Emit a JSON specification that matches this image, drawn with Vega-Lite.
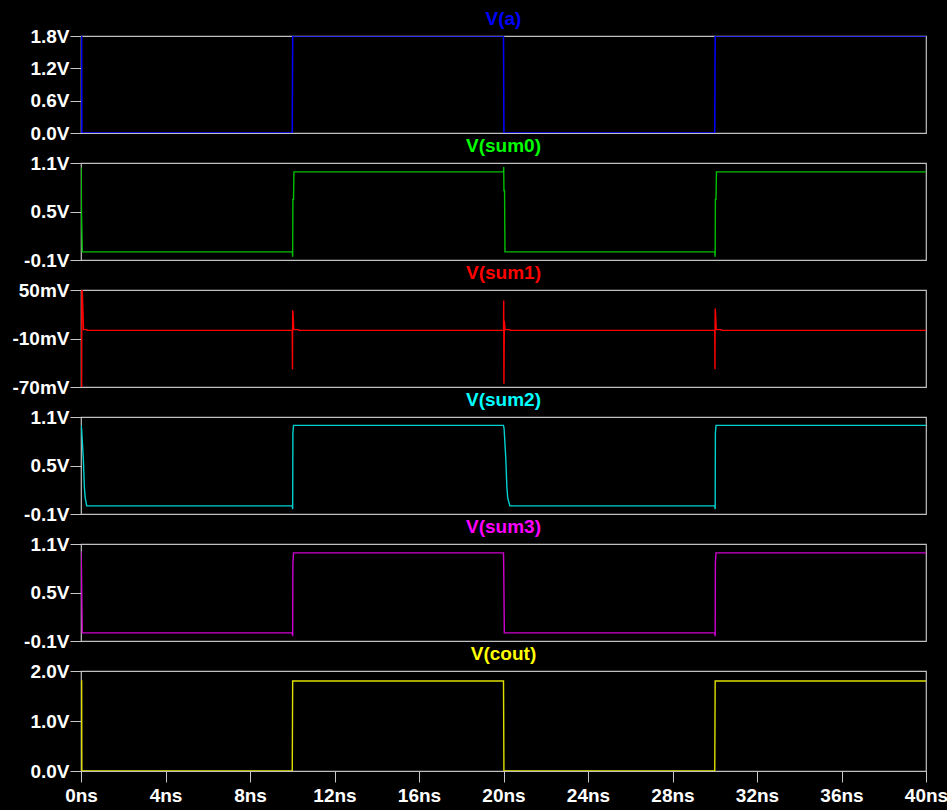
{
  "$schema": "https://vega.github.io/schema/vega-lite/v6.json",
  "background": "black",
  "padding": {"left": 11, "top": 9, "right": 0, "bottom": 5},
  "bounds": "flush",
  "spacing": 30,
  "resolve": {"scale": {"y": "independent"}},
  "datasets": {
    "waves": [
      {"sig": "a", "t": 0, "v": 1.8}, {"sig": "a", "t": 0.03, "v": 1.8}, {"sig": "a", "t": 0.04, "v": 0}, {"sig": "a", "t": 10, "v": 0}, {"sig": "a", "t": 10.02, "v": 1.8},
      {"sig": "a", "t": 20, "v": 1.8}, {"sig": "a", "t": 20.02, "v": 0}, {"sig": "a", "t": 30, "v": 0}, {"sig": "a", "t": 30.02, "v": 1.8}, {"sig": "a", "t": 40, "v": 1.8},

      {"sig": "sum0", "t": 0, "v": 1.04}, {"sig": "sum0", "t": 0.01, "v": 1.04}, {"sig": "sum0", "t": 0.02, "v": 0.55}, {"sig": "sum0", "t": 0.06, "v": 0.0},
      {"sig": "sum0", "t": 10, "v": 0.0}, {"sig": "sum0", "t": 10.02, "v": -0.06}, {"sig": "sum0", "t": 10.03, "v": 0.65}, {"sig": "sum0", "t": 10.06, "v": 0.65}, {"sig": "sum0", "t": 10.08, "v": 0.99},
      {"sig": "sum0", "t": 20, "v": 0.99}, {"sig": "sum0", "t": 20.01, "v": 1.05}, {"sig": "sum0", "t": 20.02, "v": 0.76}, {"sig": "sum0", "t": 20.05, "v": 0.76}, {"sig": "sum0", "t": 20.07, "v": 0.0},
      {"sig": "sum0", "t": 30, "v": 0.0}, {"sig": "sum0", "t": 30.02, "v": -0.06}, {"sig": "sum0", "t": 30.03, "v": 0.65}, {"sig": "sum0", "t": 30.06, "v": 0.65}, {"sig": "sum0", "t": 30.08, "v": 0.99},
      {"sig": "sum0", "t": 40, "v": 0.99},

      {"sig": "sum1", "t": 0, "v": 0}, {"sig": "sum1", "t": 0.03, "v": -0.08}, {"sig": "sum1", "t": 0.04, "v": 0.06}, {"sig": "sum1", "t": 0.07, "v": 0.042}, {"sig": "sum1", "t": 0.09, "v": 0.025}, {"sig": "sum1", "t": 0.12, "v": 0.001}, {"sig": "sum1", "t": 0.28, "v": 0.001}, {"sig": "sum1", "t": 0.3, "v": 0},
      {"sig": "sum1", "t": 10, "v": 0}, {"sig": "sum1", "t": 10.01, "v": -0.048}, {"sig": "sum1", "t": 10.02, "v": 0.025}, {"sig": "sum1", "t": 10.04, "v": 0.02}, {"sig": "sum1", "t": 10.07, "v": 0.001}, {"sig": "sum1", "t": 10.3, "v": 0.001}, {"sig": "sum1", "t": 10.32, "v": 0},
      {"sig": "sum1", "t": 20, "v": 0}, {"sig": "sum1", "t": 20.01, "v": 0.037}, {"sig": "sum1", "t": 20.02, "v": -0.066}, {"sig": "sum1", "t": 20.04, "v": 0.012}, {"sig": "sum1", "t": 20.07, "v": 0.001}, {"sig": "sum1", "t": 20.3, "v": 0.001}, {"sig": "sum1", "t": 20.32, "v": 0},
      {"sig": "sum1", "t": 30, "v": 0}, {"sig": "sum1", "t": 30.01, "v": -0.048}, {"sig": "sum1", "t": 30.02, "v": 0.027}, {"sig": "sum1", "t": 30.04, "v": 0.02}, {"sig": "sum1", "t": 30.07, "v": 0.001}, {"sig": "sum1", "t": 30.3, "v": 0.001}, {"sig": "sum1", "t": 30.32, "v": 0},
      {"sig": "sum1", "t": 40, "v": 0},

      {"sig": "sum2", "t": 0, "v": 1.0}, {"sig": "sum2", "t": 0.03, "v": 0.95}, {"sig": "sum2", "t": 0.11, "v": 0.58}, {"sig": "sum2", "t": 0.16, "v": 0.23}, {"sig": "sum2", "t": 0.2, "v": 0.1}, {"sig": "sum2", "t": 0.27, "v": 0.0},
      {"sig": "sum2", "t": 10, "v": 0.0}, {"sig": "sum2", "t": 10.02, "v": -0.04}, {"sig": "sum2", "t": 10.03, "v": 0.9}, {"sig": "sum2", "t": 10.06, "v": 0.997},
      {"sig": "sum2", "t": 20, "v": 0.997}, {"sig": "sum2", "t": 20.03, "v": 0.95}, {"sig": "sum2", "t": 20.11, "v": 0.58}, {"sig": "sum2", "t": 20.16, "v": 0.23}, {"sig": "sum2", "t": 20.2, "v": 0.1}, {"sig": "sum2", "t": 20.3, "v": 0.0},
      {"sig": "sum2", "t": 30, "v": 0.0}, {"sig": "sum2", "t": 30.02, "v": -0.04}, {"sig": "sum2", "t": 30.03, "v": 0.9}, {"sig": "sum2", "t": 30.06, "v": 0.997},
      {"sig": "sum2", "t": 40, "v": 0.997},

      {"sig": "sum3", "t": 0, "v": 1.01}, {"sig": "sum3", "t": 0.02, "v": 0.82}, {"sig": "sum3", "t": 0.06, "v": 0.0},
      {"sig": "sum3", "t": 10, "v": 0.0}, {"sig": "sum3", "t": 10.02, "v": -0.04}, {"sig": "sum3", "t": 10.03, "v": 0.86}, {"sig": "sum3", "t": 10.06, "v": 0.99},
      {"sig": "sum3", "t": 20, "v": 0.99}, {"sig": "sum3", "t": 20.01, "v": 0.82}, {"sig": "sum3", "t": 20.04, "v": 0.0},
      {"sig": "sum3", "t": 30, "v": 0.0}, {"sig": "sum3", "t": 30.02, "v": -0.04}, {"sig": "sum3", "t": 30.03, "v": 0.86}, {"sig": "sum3", "t": 30.06, "v": 0.99},
      {"sig": "sum3", "t": 40, "v": 0.99},

      {"sig": "cout", "t": 0, "v": 1.8}, {"sig": "cout", "t": 0.03, "v": 1.8}, {"sig": "cout", "t": 0.04, "v": 0}, {"sig": "cout", "t": 10, "v": 0}, {"sig": "cout", "t": 10.02, "v": 1.8},
      {"sig": "cout", "t": 20, "v": 1.8}, {"sig": "cout", "t": 20.02, "v": 0}, {"sig": "cout", "t": 30, "v": 0}, {"sig": "cout", "t": 30.02, "v": 1.8}, {"sig": "cout", "t": 40, "v": 1.8}
    ]
  },
  "vconcat": [
    {
      "title": {"text": "V(a)", "color": "#0000ff"},
      "width": 845, "height": 97,
      "data": {"name": "waves"},
      "transform": [{"filter": "datum.sig == 'a'"}],
      "mark": {"type": "line", "color": "#0000ff", "strokeWidth": 1.5, "clip": true},
      "encoding": {
        "x": {"field": "t", "type": "quantitative", "scale": {"domain": [0, 40], "nice": false}, "axis": null},
        "y": {"field": "v", "type": "quantitative", "scale": {"domain": [0, 1.8], "nice": false, "zero": false},
              "axis": {"title": null, "values": [0, 0.6, 1.2, 1.8], "labelExpr": "(datum.value < 0 ? '-' : '') + format(abs(datum.value), '.1f') + 'V'"}}
      }
    },
    {
      "title": {"text": "V(sum0)", "color": "#00ff00"},
      "width": 845, "height": 97,
      "data": {"name": "waves"},
      "transform": [{"filter": "datum.sig == 'sum0'"}],
      "mark": {"type": "line", "color": "#00c000", "strokeWidth": 1.4, "clip": true},
      "encoding": {
        "x": {"field": "t", "type": "quantitative", "scale": {"domain": [0, 40], "nice": false}, "axis": null},
        "y": {"field": "v", "type": "quantitative", "scale": {"domain": [-0.1, 1.1], "nice": false, "zero": false},
              "axis": {"title": null, "values": [-0.1, 0.5, 1.1], "labelExpr": "(datum.value < 0 ? '-' : '') + format(abs(datum.value), '.1f') + 'V'"}}
      }
    },
    {
      "title": {"text": "V(sum1)", "color": "#ff0000"},
      "width": 845, "height": 97,
      "data": {"name": "waves"},
      "transform": [{"filter": "datum.sig == 'sum1'"}],
      "mark": {"type": "line", "color": "#ff0000", "strokeWidth": 1.4, "clip": true},
      "encoding": {
        "x": {"field": "t", "type": "quantitative", "scale": {"domain": [0, 40], "nice": false}, "axis": null},
        "y": {"field": "v", "type": "quantitative", "scale": {"domain": [-0.07, 0.05], "nice": false, "zero": false},
              "axis": {"title": null, "values": [-0.07, -0.01, 0.05], "labelExpr": "(datum.value < 0 ? '-' : '') + format(abs(datum.value) * 1000, '.0f') + 'mV'"}}
      }
    },
    {
      "title": {"text": "V(sum2)", "color": "#00ffff"},
      "width": 845, "height": 97,
      "data": {"name": "waves"},
      "transform": [{"filter": "datum.sig == 'sum2'"}],
      "mark": {"type": "line", "color": "#00d0d0", "strokeWidth": 1.4, "clip": true},
      "encoding": {
        "x": {"field": "t", "type": "quantitative", "scale": {"domain": [0, 40], "nice": false}, "axis": null},
        "y": {"field": "v", "type": "quantitative", "scale": {"domain": [-0.1, 1.1], "nice": false, "zero": false},
              "axis": {"title": null, "values": [-0.1, 0.5, 1.1], "labelExpr": "(datum.value < 0 ? '-' : '') + format(abs(datum.value), '.1f') + 'V'"}}
      }
    },
    {
      "title": {"text": "V(sum3)", "color": "#ff00ff"},
      "width": 845, "height": 97,
      "data": {"name": "waves"},
      "transform": [{"filter": "datum.sig == 'sum3'"}],
      "mark": {"type": "line", "color": "#d000d0", "strokeWidth": 1.4, "clip": true},
      "encoding": {
        "x": {"field": "t", "type": "quantitative", "scale": {"domain": [0, 40], "nice": false}, "axis": null},
        "y": {"field": "v", "type": "quantitative", "scale": {"domain": [-0.1, 1.1], "nice": false, "zero": false},
              "axis": {"title": null, "values": [-0.1, 0.5, 1.1], "labelExpr": "(datum.value < 0 ? '-' : '') + format(abs(datum.value), '.1f') + 'V'"}}
      }
    },
    {
      "title": {"text": "V(cout)", "color": "#ffff00"},
      "width": 845, "height": 100,
      "data": {"name": "waves"},
      "transform": [{"filter": "datum.sig == 'cout'"}],
      "mark": {"type": "line", "color": "#e0e000", "strokeWidth": 1.4, "clip": true},
      "encoding": {
        "x": {"field": "t", "type": "quantitative", "scale": {"domain": [0, 40], "nice": false},
              "axis": {"title": null, "values": [0, 4, 8, 12, 16, 20, 24, 28, 32, 36, 40], "labelExpr": "datum.value + 'ns'", "labelPadding": 4, "labelFlush": false}},
        "y": {"field": "v", "type": "quantitative", "scale": {"domain": [0, 2], "nice": false, "zero": false},
              "axis": {"title": null, "values": [0, 1, 2], "labelExpr": "(datum.value < 0 ? '-' : '') + format(abs(datum.value), '.1f') + 'V'"}}
      }
    }
  ],
  "config": {
    "view": {"stroke": "#c0c0c0", "strokeWidth": 1.2, "fill": "black"},
    "axis": {
      "domain": false, "grid": false,
      "labelFont": "Liberation Sans", "labelFontWeight": "bold", "labelFontSize": 19, "labelColor": "#ffffff",
      "tickColor": "#c8c8c8", "tickSize": 11, "labelPadding": 1, "labelOverlap": false
    },
    "title": {
      "font": "Liberation Sans", "fontSize": 19, "fontWeight": "bold", "anchor": "middle", "frame": "group", "offset": -2
    }
  }
}
